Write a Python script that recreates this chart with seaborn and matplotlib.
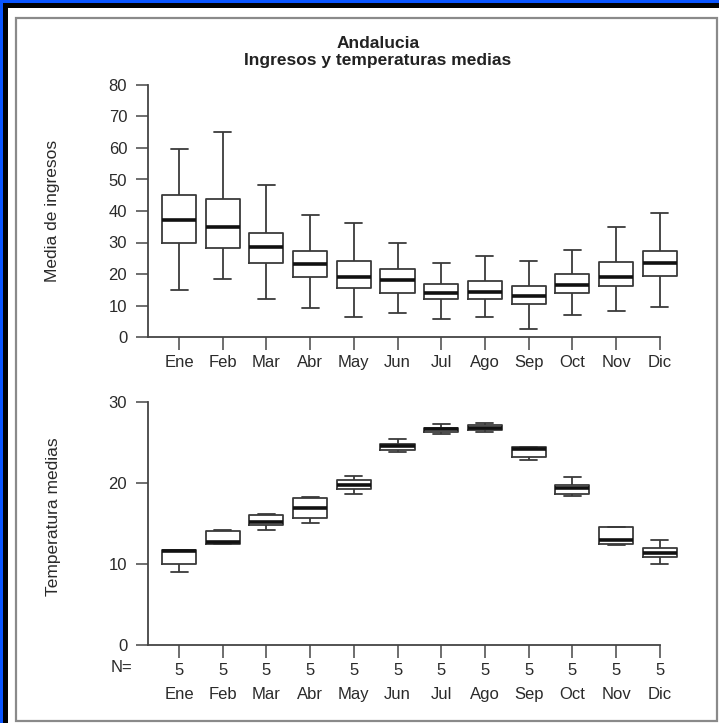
import numpy as np
import pandas as pd
import matplotlib
matplotlib.use("Agg")
import matplotlib.pyplot as plt
from matplotlib.patches import Rectangle
import seaborn as sns

months = ["Ene", "Feb", "Mar", "Abr", "May", "Jun", "Jul", "Ago", "Sep", "Oct", "Nov", "Dic"]
n_obs = [5, 5, 5, 5, 5, 5, 5, 5, 5, 5, 5, 5]

# Media de ingresos (min, Q1, mediana, Q3, max)
ing_min = [14.8, 18.4, 12.0, 9.1, 6.3, 7.6, 5.7, 6.3, 2.5, 6.9, 8.4, 9.4]
ing_q1 = [29.8, 28.2, 23.5, 19.0, 15.5, 14.0, 12.0, 12.0, 10.6, 14.0, 16.1, 19.5]
ing_med = [37.0, 34.9, 28.5, 23.1, 19.2, 18.0, 14.0, 14.4, 12.9, 16.6, 19.0, 23.5]
ing_q3 = [45.1, 43.9, 33.0, 27.2, 24.0, 21.7, 16.8, 17.7, 16.1, 20.0, 23.7, 27.2]
ing_max = [59.6, 65.2, 48.2, 38.7, 36.2, 29.8, 23.5, 25.6, 24.0, 27.5, 34.8, 39.5]

# Temperatura media (min, Q1, mediana, Q3, max)
tem_min = [9.0, 12.4, 14.2, 15.0, 18.6, 23.8, 26.0, 26.3, 22.8, 18.4, 12.3, 10.0]
tem_q1 = [10.0, 12.5, 14.8, 15.7, 19.2, 24.0, 26.3, 26.5, 23.2, 18.6, 12.5, 10.9]
tem_med = [11.6, 12.7, 15.2, 16.9, 19.7, 24.5, 26.6, 26.8, 24.2, 19.4, 12.9, 11.4]
tem_q3 = [11.7, 14.0, 16.0, 18.1, 20.3, 24.8, 26.8, 27.1, 24.4, 19.7, 14.5, 12.0]
tem_max = [11.7, 14.2, 16.2, 18.2, 20.8, 25.4, 27.2, 27.4, 24.4, 20.7, 14.5, 12.9]

ing_yticks = [0, 10, 20, 30, 40, 50, 60, 70, 80]
tem_yticks = [0, 10, 20, 30]


def long_frame(cols):
    rows = []
    for i, m in enumerate(months):
        for c in cols:
            rows.append({"mes": m, "valor": c[i]})
    return pd.DataFrame(rows)


df_ing = long_frame([ing_min, ing_q1, ing_med, ing_q3, ing_max])
df_tem = long_frame([tem_min, tem_q1, tem_med, tem_q3, tem_max])

sns.set_style("ticks")
plt.rcParams["font.family"] = ["Liberation Sans", "DejaVu Sans"]

W, H = 719, 723
fig = plt.figure(figsize=(W / 100, H / 100), dpi=100)
fig.patch.set_facecolor("white")


def px_rect(x0, y0, x1, y1, **kw):
    fig.add_artist(Rectangle((x0 / W, 1 - y1 / H), (x1 - x0) / W, (y1 - y0) / H,
                             transform=fig.transFigure, **kw))


px_rect(0, 0, W, 8, color="black", lw=0)
px_rect(0, 0, 8, H, color="black", lw=0)
px_rect(0, 0, W, 3, color="#0a55ff", lw=0)
px_rect(0, 0, 3, H, color="#0a55ff", lw=0)
px_rect(16, 18, 717, 721, fill=False, ec="#8a8a8a", lw=1.6)

ppu = 43.7
left_px, right_px = 148, 690
x_lo = -0.71
x_hi = x_lo + (right_px - left_px) / ppu

ax1 = fig.add_axes([left_px / W, 1 - 337 / H, (right_px - left_px) / W, (337 - 85) / H])
ax2 = fig.add_axes([left_px / W, 1 - 645 / H, (right_px - left_px) / W, (645 - 401.7) / H])

lc = "#3a3a3a"
common = dict(x="mes", y="valor", order=months, whis=(0, 100), width=0.78,
              fill=False, color=lc, linewidth=1.3,
              medianprops={"color": "#111111", "linewidth": 2.6})

sns.boxplot(data=df_ing, ax=ax1, **common)
sns.boxplot(data=df_tem, ax=ax2, **common)

txt = "#2a2a2a"
for ax, yt in [(ax1, ing_yticks), (ax2, tem_yticks)]:
    ax.set_xlim(x_lo, x_hi)
    ax.set_ylim(yt[0], yt[-1])
    ax.set_yticks(yt)
    ax.set_xticks(range(len(months)))
    for s in ["top", "right"]:
        ax.spines[s].set_visible(False)
    ax.spines["bottom"].set_bounds(x_lo, len(months) - 1)
    for s in ["left", "bottom"]:
        ax.spines[s].set_color("#444444")
        ax.spines[s].set_linewidth(1.3)
    ax.tick_params(axis="both", length=9, width=1.2, color="#555555",
                   labelsize=12, labelcolor=txt)
    ax.tick_params(axis="y", pad=6)
    ax.tick_params(axis="x", pad=4)
    ax.set_xlabel("")
    ax.set_ylabel("")
    ax.patch.set_alpha(0)

ax1.set_xticklabels(months)
ax2.set_xticklabels([f"{n}\n{m}" for n, m in zip(n_obs, months)], linespacing=1.75)

fig.text(53 / W, 1 - 211 / H, "Media de ingresos", rotation=90, ha="center", va="center",
         fontsize=12.5, color=txt)
fig.text(54 / W, 1 - 517 / H, "Temperatura medias", rotation=90, ha="center", va="center",
         fontsize=12.5, color=txt)

fig.text(122 / W, 1 - 668 / H, "N=", ha="center", va="center",
         fontsize=12, color=txt)

fig.text(378 / W, 1 - 43 / H, "Andalucia", ha="center", va="center",
         fontsize=12.5, fontweight="bold", color="#222222")
fig.text(378 / W, 1 - 61 / H, "Ingresos y temperaturas medias", ha="center", va="center",
         fontsize=12.5, fontweight="bold", color="#222222")

fig.savefig("out.png", dpi=100, facecolor="white")
